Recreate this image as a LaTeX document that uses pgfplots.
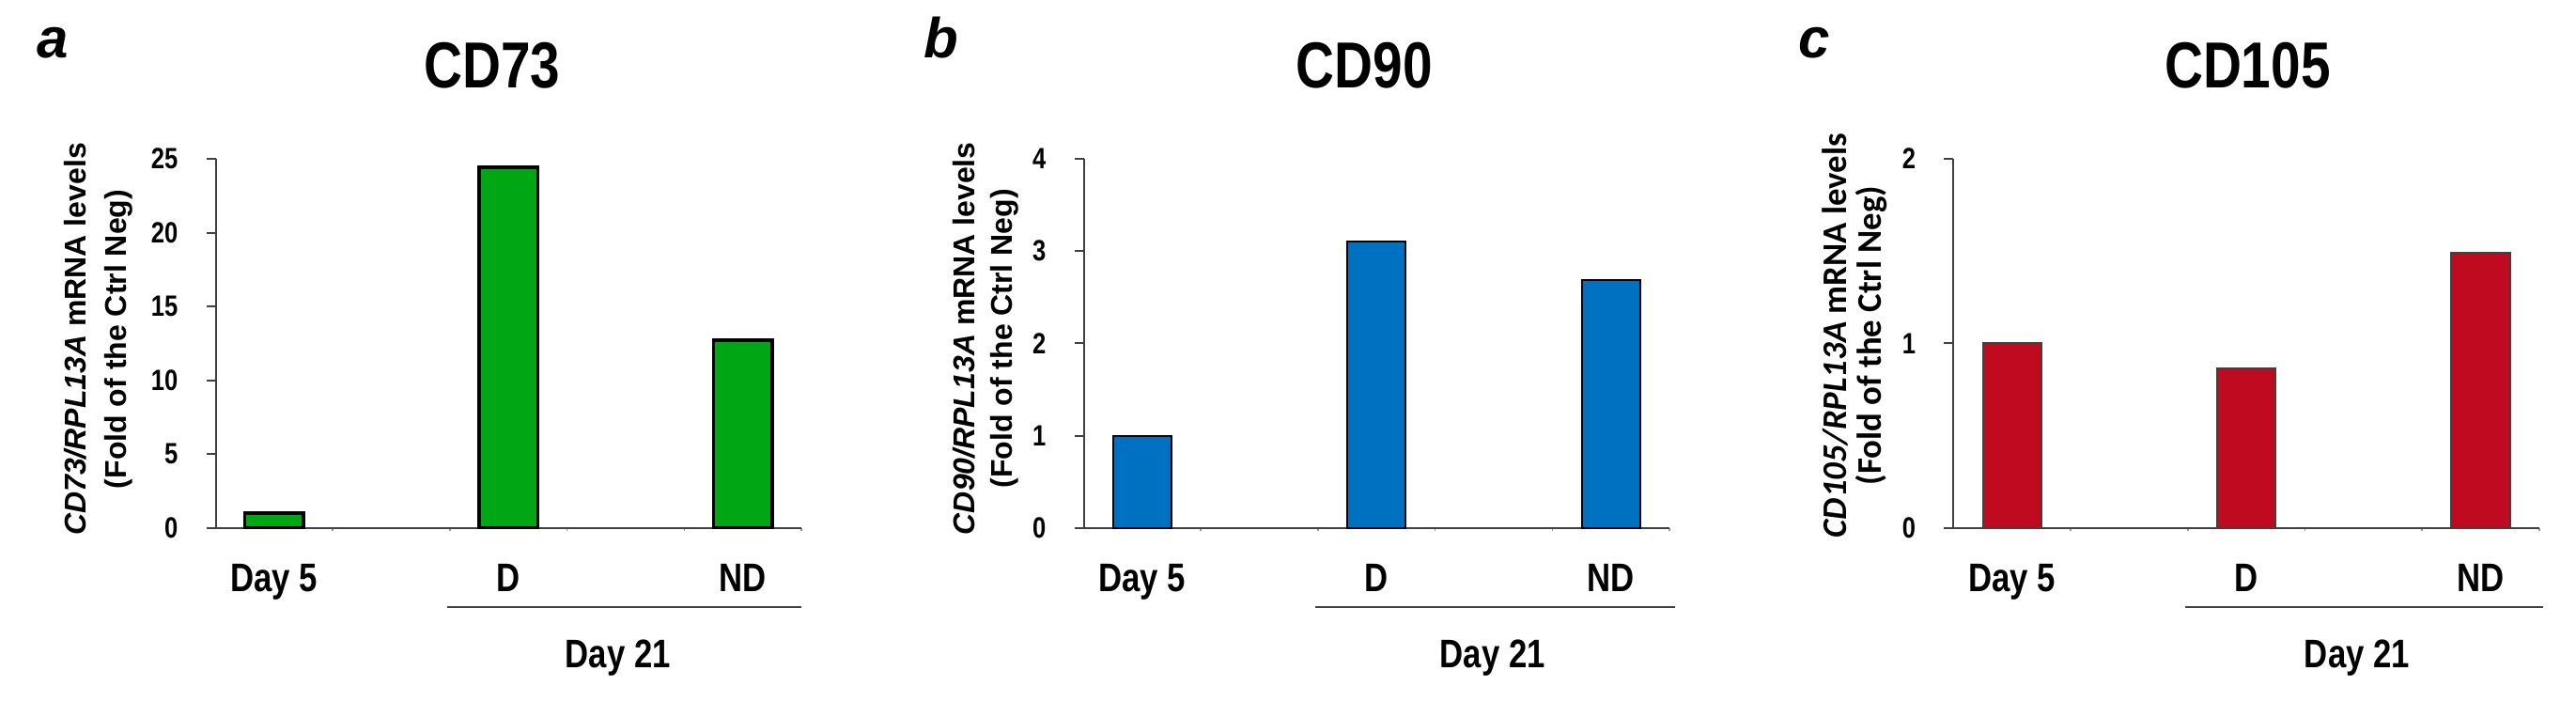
\documentclass[border=0pt]{standalone}
\usepackage{fontspec}
\setmainfont{Liberation Sans}
\newfontfamily\narrowfont{Liberation Sans}[FakeStretch=0.82]
\newfontfamily\calib{Carlito}
\usepackage{pgfplots}
\pgfplotsset{compat=1.18}
\definecolor{cgreen}{RGB}{0,166,20}
\definecolor{cblue}{RGB}{0,112,192}
\definecolor{cred}{RGB}{192,10,32}
\definecolor{axgray}{RGB}{64,64,64}
\pgfplotsset{
 panel/.style={
  scale only axis, width=155.9pt, height=98.175pt,
  anchor=south west,
  axis x line=bottom, axis y line=left,
  axis line style={-, line width=0.5pt, color=axgray},
  xmin=-0.5, xmax=4.5, ymin=0,
  xtick={0,2,4}, xticklabels={Day 5, D, ND},
  minor xtick={0.5,1.5,2.5,3.5,4.5},
  major x tick style={draw=none},
  minor x tick style={black!40, line width=0.4pt},
  minor tick length=0.8pt,
  tick align=outside,
  ytick pos=left, xtick pos=bottom,
  major tick length=2.5pt,
  y tick style={axgray, line width=0.5pt},
  xticklabel style={font=\narrowfont\bfseries\fontsize{10.6}{12}\selectfont, anchor=base, yshift=-14.5pt},
  yticklabel style={font=\narrowfont\bfseries\fontsize{7.8}{9}\selectfont, xshift=-4pt},
  /pgf/number format/assume math mode=true,
  clip=false,
  ybar, bar width=0.5,
 },
}
\tikzset{
 ttl/.style={font=\narrowfont\bfseries\fontsize{17.3}{18}\selectfont, anchor=base},
 lett/.style={font=\bfseries\itshape\fontsize{15}{15}\selectfont, anchor=base west},
 ylab/.style={rotate=90, anchor=base, font=\bfseries\fontsize{8}{9}\selectfont},
 ylabc/.style={rotate=90, anchor=base, font=\calib\bfseries\fontsize{9.2}{10}\selectfont},
 grp/.style={font=\narrowfont\bfseries\fontsize{10.6}{12}\selectfont, anchor=base},
 brk/.style={line width=0.5pt, draw=axgray},
}
\begin{document}
\begin{tikzpicture}
\path[use as bounding box] (0,0) rectangle (685.5pt,186.75pt);
% Panel a
\begin{axis}[panel, at={(57.375pt,46.325pt)}, ymax=25, ytick={0,5,10,15,20,25}]
\addplot[fill=cgreen, draw=black, line width=0.9pt] coordinates {(0,1.0) (2,24.43) (4,12.73)};
\node[ttl] at (rel axis cs:0.472,1.1935) {CD73};
\node[lett] at (rel axis cs:-0.328,1.2725) {a};
\node[ylab] at (rel axis cs:-0.2205,0.511) {\textit{CD73/RPL13A} mRNA levels};
\node[ylab] at (rel axis cs:-0.1516,0.511) {(Fold of the Ctrl Neg)};
\draw[brk] (rel axis cs:0.396,-0.2147) -- (rel axis cs:1.0,-0.2147);
\node[grp] at (rel axis cs:0.687,-0.380) {Day 21};
\end{axis}
% Panel b
\begin{axis}[panel, at={(288.375pt,46.325pt)}, ymax=4, ytick={0,1,2,3,4}]
\addplot[fill=cblue, draw=black, line width=0.5pt] coordinates {(0,1.0) (2,3.1) (4,2.69)};
\node[ttl] at (rel axis cs:0.479,1.1935) {CD90};
\node[lett] at (rel axis cs:-0.296,1.2725) {b};
\node[ylab] at (rel axis cs:-0.1868,0.513) {\textit{CD90/RPL13A} mRNA levels};
\node[ylab] at (rel axis cs:-0.1211,0.513) {(Fold of the Ctrl Neg)};
\draw[brk] (rel axis cs:0.396,-0.2147) -- (rel axis cs:1.01,-0.2147);
\node[grp] at (rel axis cs:0.698,-0.380) {Day 21};
\end{axis}
% Panel c
\begin{axis}[panel, at={(519.825pt,46.325pt)}, ymax=2, ytick={0,1,2}]
\addplot[fill=cred, draw=axgray, line width=0.5pt] coordinates {(0,1.0) (2,0.865) (4,1.49)};
\node[ttl] at (rel axis cs:0.502,1.1935) {CD105};
\node[lett] at (rel axis cs:-0.2866,1.2725) {c};
\node[ylabc] at (rel axis cs:-0.1833,0.521) {\textit{CD105/RPL13A} mRNA levels};
\node[ylabc] at (rel axis cs:-0.1224,0.521) {(Fold of the Ctrl Neg)};
\draw[brk] (rel axis cs:0.396,-0.2147) -- (rel axis cs:1.006,-0.2147);
\node[grp] at (rel axis cs:0.689,-0.380) {Day 21};
\end{axis}
\end{tikzpicture}
\end{document}
